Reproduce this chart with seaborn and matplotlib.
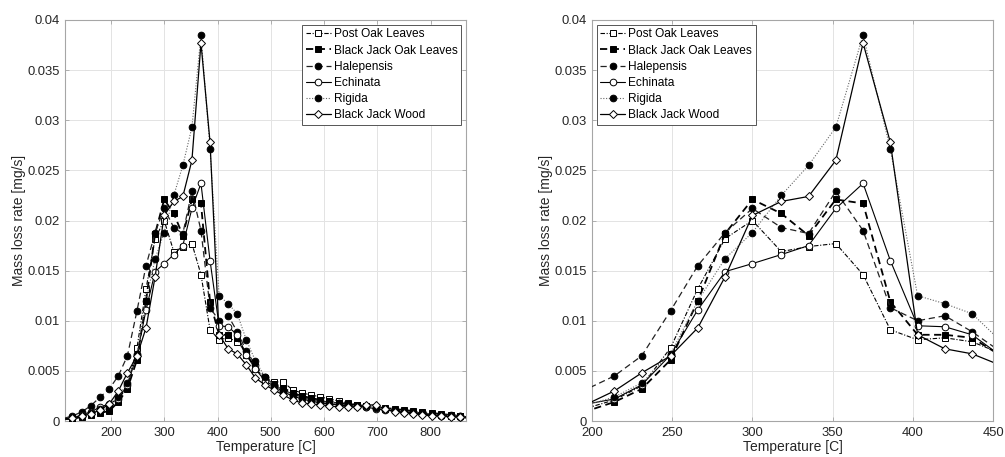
import numpy as np
import pandas as pd
import seaborn as sns
import matplotlib
matplotlib.use("Agg")
import matplotlib.pyplot as plt
from matplotlib.ticker import FuncFormatter, MultipleLocator

# Temperature samples [C]; the first and last sample are drawn without a marker
temperature = [114, 128, 145, 162, 180, 197, 214, 231, 249, 266, 283, 300, 318,
               335, 352, 369, 386, 403, 420, 437, 454, 471, 489, 506, 523, 541,
               558, 575, 593, 610, 627, 645, 662, 679, 697, 714, 732, 749, 767,
               784, 802, 819, 837, 854, 866]

# Mass loss rate [mg/s]
post_oak_leaves = [0.0002, 0.0003, 0.0005, 0.0007, 0.0010, 0.0013,
                   0.0021, 0.0035, 0.0073, 0.0132, 0.0182, 0.0200, 0.0169, 0.0174,
                   0.0177, 0.0146, 0.0091, 0.0081, 0.0083, 0.0079,
                   0.0068, 0.0052, 0.0043, 0.0039, 0.0039, 0.0031, 0.0028, 0.0026,
                   0.0024, 0.0022, 0.0020, 0.0018, 0.0016, 0.0015, 0.0014, 0.0012,
                   0.0011, 0.0010, 0.0009, 0.0008, 0.0007, 0.0006, 0.0005, 0.0005,
                   0.0004]
black_jack_oak_leaves = [0.0002, 0.0002, 0.0004, 0.0006, 0.0008, 0.0010,
                         0.0019, 0.0032, 0.0061, 0.0120, 0.0187, 0.0221, 0.0207,
                         0.0185, 0.0221, 0.0217, 0.0119, 0.0086, 0.0086, 0.0083,
                         0.0066, 0.0054, 0.0043, 0.0037, 0.0033, 0.0028, 0.0025,
                         0.0023, 0.0021, 0.0020, 0.0018, 0.0017, 0.0016, 0.0015,
                         0.0014, 0.0013, 0.0012, 0.0011, 0.0010, 0.0009, 0.0008,
                         0.0007, 0.0006, 0.0005, 0.0004]
halepensis = [0.0003, 0.0005, 0.0009, 0.0015, 0.0024, 0.0032,
              0.0045, 0.0065, 0.0110, 0.0155, 0.0188, 0.0212, 0.0193, 0.0187,
              0.0229, 0.0190, 0.0113, 0.0100, 0.0105, 0.0089,
              0.0070, 0.0056, 0.0044, 0.0036, 0.0031, 0.0027, 0.0024, 0.0022,
              0.0020, 0.0019, 0.0018, 0.0016, 0.0015, 0.0014, 0.0013, 0.0012,
              0.0011, 0.0010, 0.0009, 0.0008, 0.0007, 0.0006, 0.0006, 0.0005,
              0.0004]
echinata = [0.0002, 0.0003, 0.0006, 0.0009, 0.0014, 0.0017,
            0.0022, 0.0036, 0.0066, 0.0111, 0.0149, 0.0157, 0.0166, 0.0175,
            0.0212, 0.0237, 0.0160, 0.0095, 0.0094, 0.0086,
            0.0066, 0.0052, 0.0040, 0.0035, 0.0029, 0.0025, 0.0022, 0.0020,
            0.0018, 0.0017, 0.0016, 0.0015, 0.0015, 0.0014, 0.0012, 0.0011,
            0.0010, 0.0009, 0.0008, 0.0007, 0.0006, 0.0005, 0.0005, 0.0004,
            0.0004]
rigida = [0.0002, 0.0003, 0.0005, 0.0008, 0.0012, 0.0016,
          0.0024, 0.0038, 0.0067, 0.0120, 0.0162, 0.0188, 0.0225, 0.0255,
          0.0293, 0.0385, 0.0271, 0.0125, 0.0117, 0.0107,
          0.0081, 0.0060, 0.0044, 0.0036, 0.0030, 0.0026, 0.0023, 0.0021,
          0.0019, 0.0018, 0.0017, 0.0016, 0.0015, 0.0015, 0.0013, 0.0012,
          0.0011, 0.0010, 0.0009, 0.0008, 0.0007, 0.0006, 0.0005, 0.0005,
          0.0004]
black_jack_wood = [0.0002, 0.0003, 0.0005, 0.0007, 0.0011, 0.0017,
                   0.0030, 0.0048, 0.0065, 0.0093, 0.0144, 0.0205, 0.0219, 0.0224,
                   0.0260, 0.0377, 0.0278, 0.0086, 0.0072, 0.0067,
                   0.0056, 0.0043, 0.0036, 0.0031, 0.0026, 0.0021, 0.0018, 0.0017,
                   0.0016, 0.0015, 0.0014, 0.0014, 0.0014, 0.0016, 0.0016, 0.0012,
                   0.0009, 0.0008, 0.0007, 0.0006, 0.0005, 0.0005, 0.0004, 0.0004,
                   0.0003]

series_names = ["Post Oak Leaves", "Black Jack Oak Leaves", "Halepensis",
                "Echinata", "Rigida", "Black Jack Wood"]
series_values = [post_oak_leaves, black_jack_oak_leaves, halepensis,
                 echinata, rigida, black_jack_wood]

x_ticks_full = [200, 300, 400, 500, 600, 700, 800]
x_ticks_zoom = [200, 250, 300, 350, 400, 450]

# Line and marker style for each sample
styles = {
    "Post Oak Leaves":       dict(ls=(0, (4, 1.5, 1, 1.5)), lw=0.8, marker="s", mfc="white", color="black"),
    "Black Jack Oak Leaves": dict(ls=(0, (4, 2.5)), lw=1.3, marker="s", mfc="black", color="black"),
    "Halepensis":            dict(ls=(0, (5, 3)), lw=0.9, marker="o", mfc="black", color="#222222"),
    "Echinata":              dict(ls="-", lw=0.8, marker="o", mfc="white", color="black"),
    "Rigida":                dict(ls=(0, (1, 1.5)), lw=0.8, marker="o", mfc="black", color="#666666"),
    "Black Jack Wood":       dict(ls="-", lw=0.9, marker="D", mfc="white", color="black"),
}
marker_sizes = {"s": 4.8, "o": 4.8, "D": 4.2}

frames = []
for name, vals in zip(series_names, series_values):
    frames.append(pd.DataFrame({"Temperature": temperature,
                                "Rate": vals, "Sample": name}))
data = pd.concat(frames, ignore_index=True)

sns.set_theme(style="white")
plt.rcParams["font.family"] = ["Liberation Sans", "DejaVu Sans"]

fig = plt.figure(figsize=(10.05, 4.57), dpi=100)
ax_full = fig.add_axes([65 / 1005, 36 / 457, 401 / 1005, 401 / 457])
ax_zoom = fig.add_axes([592 / 1005, 36 / 457, 401 / 1005, 401 / 457])

spine_col = "#a6a6a6"
text_col = "#262626"

for ax in (ax_full, ax_zoom):
    for name in series_names:
        st = styles[name]
        sub = data[data["Sample"] == name]
        sns.lineplot(data=sub, x="Temperature", y="Rate", ax=ax, label=name,
                     color=st["color"], linestyle=st["ls"], linewidth=st["lw"],
                     marker=st["marker"], markersize=marker_sizes[st["marker"]],
                     markerfacecolor=st["mfc"], markeredgecolor="black",
                     markeredgewidth=0.7, markevery=slice(1, -1),
                     estimator=None, sort=False, zorder=3)
    ax.set_ylim(0, 0.04)
    ax.yaxis.set_major_locator(MultipleLocator(0.005))
    ax.yaxis.set_major_formatter(FuncFormatter(lambda v, p: "%g" % round(v, 4)))
    ax.grid(True, color="#e3e3e3", linewidth=0.7, zorder=0)
    ax.set_axisbelow(True)
    for sp in ax.spines.values():
        sp.set_color(spine_col)
        sp.set_linewidth(0.8)
        sp.set_visible(True)
    ax.tick_params(axis="both", which="major", direction="in", length=3,
                   width=0.6, color=spine_col, labelsize=9.4, labelcolor=text_col,
                   top=True, right=True, bottom=True, left=True, pad=4)
    ax.set_xlabel("Temperature [C]", fontsize=10, color=text_col, labelpad=1)
    ax.set_ylabel("Mass loss rate [mg/s]", fontsize=10, color=text_col, labelpad=1)

ax_full.set_xlim(114, 866)
ax_full.set_xticks(x_ticks_full)
ax_zoom.set_xlim(200, 450)
ax_zoom.set_xticks(x_ticks_zoom)

legend_kw = dict(fontsize=8.6, frameon=True, fancybox=False, framealpha=1,
                 edgecolor="#555555", handlelength=2.1, handletextpad=0.25,
                 labelspacing=0.35, borderpad=0.3, borderaxespad=0.4)
leg1 = ax_full.legend(loc="upper right", **legend_kw)
leg2 = ax_zoom.legend(loc="upper left", **legend_kw)
for leg in (leg1, leg2):
    leg.get_frame().set_linewidth(0.7)
    for t in leg.get_texts():
        t.set_color("black")

fig.savefig("out.png", dpi=100, facecolor="white")
